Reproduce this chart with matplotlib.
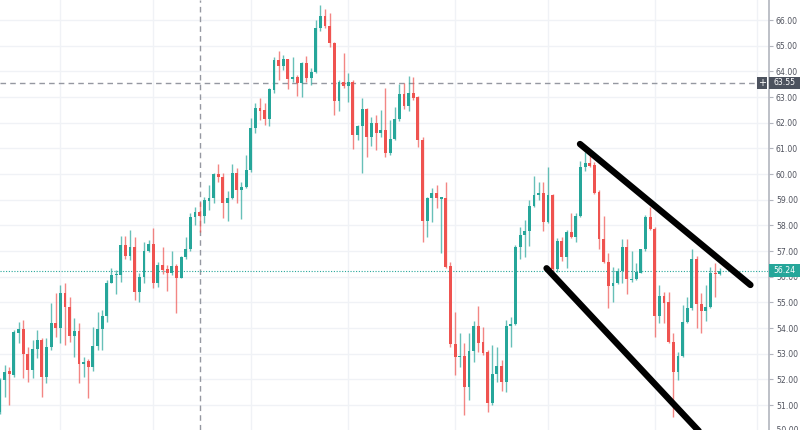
# plot.py
# candlestick chart with a descending channel, drawn like a trading terminal

import numpy as np
import matplotlib
matplotlib.use("Agg")
import matplotlib.pyplot as plt
from matplotlib.patches import Rectangle
from matplotlib.transforms import blended_transform_factory


# daily prices, oldest first
opens = [50.74, 51.97, 52.33, 52.17, 53.82, 53.95, 52.99, 52.36, 53.17, 53.53,
         52.08, 53.25, 54.21, 53.99, 55.35, 54.83, 53.69, 53.90, 52.60, 52.73,
         52.47, 53.30, 53.95, 54.47, 55.77, 56.05, 56.07, 57.23, 56.81, 57.17,
         55.42, 56.00, 57.01, 57.27, 55.74, 56.46, 56.29, 56.16, 56.42, 55.97,
         56.75, 57.07, 58.34, 58.53, 58.36, 58.96, 59.05, 60.00, 59.87, 58.88,
         59.05, 60.03, 59.38, 59.51, 60.16, 61.78, 62.56, 62.49, 62.16, 63.27,
         64.44, 64.22, 64.47, 63.69, 63.77, 63.53, 64.34, 63.75, 63.99, 65.68,
         66.17, 65.77, 65.09, 62.86, 63.60, 63.43, 63.60, 61.52, 61.87, 62.52,
         61.43, 61.97, 61.61, 61.71, 60.81, 61.35, 62.13, 63.12, 62.65, 63.17,
         62.99, 61.33, 58.18, 59.05, 59.27, 59.04, 59.05, 56.42, 53.38, 52.86,
         52.91, 51.69, 53.12, 54.08, 53.47, 53.08, 51.07, 52.21, 52.52, 51.91,
         54.08, 54.16, 57.17, 57.62, 57.79, 58.75, 59.18, 59.27, 58.14, 59.18,
         56.29, 57.40, 56.78, 57.75, 57.56, 58.36, 60.26, 60.42, 60.35, 59.31,
         57.46, 56.59, 55.64, 55.74, 56.23, 57.17, 55.87, 55.90, 56.16, 57.07,
         58.34, 57.85, 54.47, 55.25, 55.03, 53.47, 52.30, 52.91, 54.25, 54.77,
         56.71, 54.94, 54.68, 54.81, 56.16, 56.10]
highs = [52.04, 52.56, 52.49, 53.92, 54.25, 54.31, 53.27, 53.53, 53.92, 53.60,
         53.60, 54.96, 55.35, 55.68, 55.74, 55.22, 54.38, 54.21, 52.86, 52.78,
         54.05, 54.64, 54.70, 55.87, 56.33, 56.26, 57.59, 57.59, 57.82, 57.53,
         56.13, 57.36, 57.43, 57.88, 56.59, 57.17, 56.46, 57.01, 56.49, 56.81,
         57.53, 58.47, 58.73, 58.92, 59.12, 59.57, 60.05, 60.39, 60.05, 59.35,
         60.39, 60.22, 59.70, 60.74, 62.17, 62.75, 62.97, 62.75, 63.34, 64.57,
         64.81, 64.64, 64.49, 64.57, 63.86, 64.38, 64.60, 64.12, 66.00, 66.59,
         66.42, 66.26, 65.16, 63.66, 64.73, 63.92, 63.66, 61.91, 62.95, 62.56,
         62.21, 62.30, 62.49, 63.34, 62.10, 62.62, 63.51, 63.53, 63.82, 63.77,
         63.04, 61.46, 59.12, 59.44, 59.57, 59.10, 59.70, 56.59, 54.64, 53.79,
         53.40, 53.79, 54.29, 54.86, 54.05, 53.14, 53.34, 53.27, 52.75, 54.31,
         54.42, 57.23, 57.95, 58.21, 58.99, 59.92, 59.70, 59.70, 60.29, 59.22,
         57.49, 57.56, 57.82, 58.47, 58.47, 60.52, 60.87, 60.74, 60.48, 59.38,
         58.36, 56.91, 56.39, 56.33, 57.46, 57.46, 57.01, 56.52, 57.10, 58.40,
         58.73, 57.95, 55.68, 55.42, 55.42, 53.79, 53.08, 54.90, 55.20, 57.07,
         56.81, 55.35, 55.68, 56.36, 56.55, 56.33]
lows = [50.65, 51.33, 51.00, 52.11, 53.40, 52.04, 51.91, 52.04, 52.82, 51.33,
        51.87, 53.14, 53.66, 53.40, 53.34, 53.47, 52.88, 51.85, 52.11, 51.26,
        52.34, 53.14, 53.14, 54.25, 55.74, 55.33, 55.81, 56.68, 56.65, 55.09,
        55.03, 55.74, 56.97, 55.55, 55.61, 56.10, 55.46, 56.07, 54.57, 55.94,
        56.71, 57.01, 58.01, 57.75, 58.08, 58.60, 58.86, 59.70, 58.27, 58.18,
        59.01, 58.86, 58.23, 59.44, 60.09, 61.61, 62.10, 61.91, 61.86, 63.14,
        63.66, 64.05, 63.30, 63.60, 63.04, 63.01, 63.60, 63.47, 63.95, 65.59,
        65.68, 64.94, 62.30, 62.47, 63.34, 62.82, 60.96, 61.33, 60.05, 60.68,
        61.09, 60.94, 61.46, 60.68, 60.74, 61.33, 62.08, 62.52, 62.47, 62.88,
        61.07, 57.36, 57.53, 58.14, 58.66, 56.91, 56.33, 53.27, 52.17, 52.49,
        50.61, 51.20, 52.69, 53.08, 52.95, 50.74, 51.00, 51.91, 51.56, 51.52,
        53.27, 54.12, 56.71, 56.78, 57.20, 58.70, 58.99, 57.79, 58.08, 56.23,
        56.20, 56.62, 56.33, 57.49, 57.36, 58.34, 60.13, 60.29, 59.22, 57.10,
        56.52, 54.77, 55.03, 55.72, 55.77, 55.33, 55.81, 55.87, 56.13, 57.01,
        57.82, 53.64, 54.18, 54.21, 53.40, 50.55, 51.97, 52.88, 54.18, 54.70,
        53.99, 53.82, 54.29, 54.77, 55.22, 56.05]
closes = [51.97, 52.30, 52.20, 53.86, 53.95, 52.99, 52.36, 53.17, 53.53, 52.08,
          53.25, 54.21, 53.99, 55.35, 54.83, 53.69, 53.90, 52.60, 52.69, 52.47,
          53.30, 53.95, 54.47, 55.77, 56.07, 56.11, 57.23, 56.81, 57.17, 55.42,
          56.00, 57.01, 57.27, 55.74, 56.46, 56.26, 56.16, 56.42, 55.97, 56.75,
          57.07, 58.34, 58.53, 58.36, 58.99, 59.05, 60.00, 59.87, 58.88, 59.05,
          60.03, 59.38, 59.51, 60.16, 61.78, 62.56, 62.47, 62.16, 63.30, 64.44,
          64.22, 64.47, 63.69, 63.77, 63.53, 64.34, 63.75, 63.99, 65.68, 66.17,
          65.77, 65.09, 62.86, 63.60, 63.43, 63.60, 61.52, 61.87, 62.52, 61.43,
          61.97, 61.61, 61.71, 60.81, 61.35, 62.13, 63.12, 62.65, 63.17, 62.95,
          61.33, 58.18, 59.05, 59.27, 59.05, 59.08, 56.39, 53.38, 52.86, 52.91,
          51.69, 53.12, 54.08, 53.43, 53.01, 51.07, 52.21, 52.52, 51.91, 54.08,
          54.16, 57.17, 57.62, 57.79, 58.75, 59.18, 59.27, 58.14, 59.18, 56.29,
          57.40, 56.78, 57.75, 57.56, 58.36, 60.26, 60.42, 60.33, 59.27, 57.46,
          56.59, 55.64, 55.74, 56.23, 57.17, 55.90, 55.92, 56.20, 57.07, 58.34,
          57.85, 54.47, 55.25, 54.99, 53.47, 52.30, 52.91, 54.25, 54.77, 56.71,
          54.94, 54.68, 54.81, 56.13, 56.10, 56.24]

# bar index where each month starts (vertical grid lines)
month_starts = [13, 33, 54, 75, 98, 118, 141, 163]
price_ticks = list(range(51, 67))

last_price = 56.24
marked_price = 63.55      # horizontal crosshair
marked_bar = 43           # vertical crosshair

# hand-drawn channel lines: (bar, price) end points
upper_line = [(124.9, 61.17), (161.6, 55.68)]
lower_line = [(117.7, 56.33), (152.3, 49.64)]

UP = "#26a69a"
DOWN = "#ef5350"
GRID = "#f0f2f6"
AXIS = "#b2b5be"
TEXT = "#50535e"

o = np.array(opens)
h = np.array(highs)
l = np.array(lows)
c = np.array(closes)
x = np.arange(len(o))
up = c >= o
colors = np.where(up, UP, DOWN)

fig = plt.figure(figsize=(8, 4.3), dpi=100)
ax = fig.add_axes([0, 0, 769 / 800, 1])

# wicks then bodies
ax.vlines(x, l, h, colors=colors, lw=1, alpha=0.7, zorder=2)
body_low = np.minimum(o, c)
body_h = np.maximum(np.abs(c - o), 0.05)
ax.bar(x, body_h, bottom=body_low, width=0.62, color=colors, zorder=3)

# crosshair and last price lines
ax.axhline(marked_price, color="#9598a1", lw=1, ls=(0, (4, 3)), zorder=1)
ax.axvline(marked_bar, color="#9598a1", lw=1, ls=(0, (4, 3)), zorder=1)
ax.axhline(last_price, color=UP, lw=0.8, ls=(0, (1, 1.5)), zorder=1)

# channel
for pts in (upper_line, lower_line):
    xs, ys = zip(*pts)
    ax.plot(xs, ys, color="black", lw=4.6, solid_capstyle="round", zorder=5)

ax.set_xlim(0, 165.6)
ax.set_ylim(50.03, 66.78)

ax.set_xticks(month_starts)
ax.set_xticklabels([])
ax.set_yticks(price_ticks)
ax.set_yticklabels([f"{p:.2f}" for p in price_ticks])
ax.yaxis.tick_right()
ax.tick_params(axis="y", length=3, width=0.8, color=AXIS, labelsize=5.6,
               labelcolor=TEXT, pad=2)
ax.tick_params(axis="x", length=0)
ax.grid(True, color=GRID, lw=1, zorder=0)
ax.set_axisbelow(True)
for name, sp in ax.spines.items():
    sp.set_visible(name == "right")
ax.spines["right"].set_color(AXIS)
ax.spines["right"].set_linewidth(1.2)

# partially cut 50.00 label at the bottom edge
tr = blended_transform_factory(ax.transAxes, ax.transData)
ax.text(1.0, 50.0, "   50.00", transform=tr, ha="left", va="center",
        fontsize=5.6, color=TEXT, clip_on=False)

# price label boxes on the axis
box_w = 31 / 769
box_h = 0.5
for price, fc in ((marked_price, "#4c525e"), (last_price, UP)):
    ax.add_patch(Rectangle((1.0, price - box_h / 2), box_w, box_h,
                           transform=tr, fc=fc, ec="none", clip_on=False,
                           zorder=10))
    ax.text(1.0 + box_w / 2, price, f"{price:.2f}", transform=tr,
            ha="center", va="center", fontsize=5.6, color="white",
            clip_on=False, zorder=11)

# small "+" button next to the crosshair label
ax.add_patch(Rectangle((757 / 769, marked_price - box_h / 2), 10 / 769, box_h,
                       transform=tr, fc="#4c525e", ec="none", clip_on=False,
                       zorder=10))
ax.text(762 / 769, marked_price, "+", transform=tr, ha="center", va="center",
        fontsize=7, color="white", zorder=11)

fig.savefig("out.png", dpi=100)
